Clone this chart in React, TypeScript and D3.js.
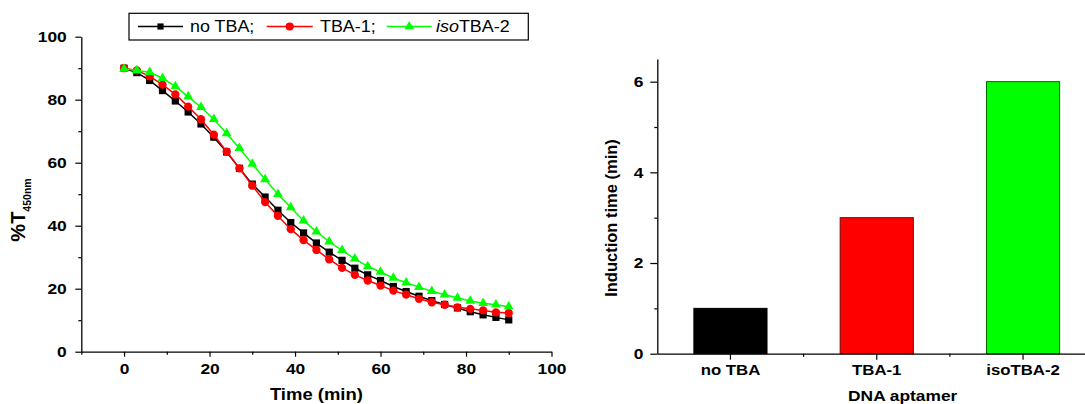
import React, { useEffect, useRef } from "react";
import * as d3 from "d3";

// left panel: transmittance vs time
const times = [0, 3, 6, 9, 12, 15, 18, 21, 24, 27, 30, 33, 36, 39, 42, 45, 48, 51, 54, 57, 60, 63, 66, 69, 72, 75, 78, 81, 84, 87, 90];
const noTBA = [90, 88.6, 86.1, 82.9, 79.6, 76.1, 72.3, 68.1, 63.4, 58.2, 53.2, 49.1, 44.9, 41.0, 37.7, 34.5, 31.6, 29.0, 26.5, 24.4, 22.6, 20.7, 19.1, 17.6, 16.2, 15.0, 13.9, 12.7, 11.7, 10.9, 10.1];
const tba1 = [90, 89.3, 87.4, 84.8, 81.7, 77.8, 73.8, 68.9, 63.5, 58.2, 52.7, 47.5, 43.1, 38.9, 35.4, 32.3, 29.3, 26.6, 24.4, 22.6, 21.0, 19.4, 18.1, 16.8, 15.7, 14.9, 14.1, 13.6, 13.1, 12.5, 12.3];
const isoTBA2 = [89.8, 89.3, 88.7, 86.8, 84.2, 81.0, 77.6, 73.8, 69.3, 64.6, 59.6, 54.7, 50.0, 45.8, 41.6, 38.1, 34.9, 32.2, 29.5, 27.1, 25.3, 23.4, 21.9, 20.5, 19.2, 18.1, 17.1, 16.1, 15.4, 14.9, 14.3];
const xTicks = [0, 20, 40, 60, 80, 100];
const xMinor = [-10, 10, 30, 50, 70, 90];
const yTicks = [0, 20, 40, 60, 80, 100];
const yMinor = [10, 30, 50, 70, 90];

// right panel: induction time
const categories = ["no TBA", "TBA-1", "isoTBA-2"];
const inductionTimes = [1, 3, 6];
const barTicks = [0, 2, 4, 6];
const barMinor = [1, 3, 5];

const FONT = "'Liberation Sans', Arial, sans-serif";
const SX = 1.12;

export default function App() {
  const ref = useRef<SVGSVGElement>(null);

  useEffect(() => {
    const svg = d3.select(ref.current);
    svg.selectAll("*").remove();
    svg.attr("font-family", FONT);

    // ---------- left chart ----------
    const x = d3.scaleLinear().domain([-10, 100]).range([81.3, 551.5]);
    const y = d3.scaleLinear().domain([0, 100]).range([351.7, 36.7]);

    const styleAxis = (g: any, size: number) => {
      g.select(".domain").attr("stroke", "#000").attr("stroke-width", 1.3);
      g.selectAll(".tick line").attr("stroke", "#000").attr("stroke-width", 1.2);
      g.selectAll("text")
        .attr("fill", "#000")
        .attr("font-family", FONT)
        .attr("font-weight", "bold")
        .attr("font-size", size)
        .attr("transform", `scale(${SX},1)`);
    };

    const minorAxis = (g: any) => {
      g.select(".domain").remove();
      g.selectAll(".tick line").attr("stroke", "#000").attr("stroke-width", 1.2);
      g.selectAll("text").remove();
    };

    svg.append("g").attr("transform", "translate(0,351.7)")
      .call(d3.axisBottom(x).tickValues(xMinor).tickSize(3).tickFormat(() => ""))
      .call(minorAxis);
    svg.append("g").attr("transform", "translate(81.3,0)")
      .call(d3.axisLeft(y).tickValues(yMinor).tickSize(3).tickFormat(() => ""))
      .call(minorAxis);

    svg.append("g").attr("transform", "translate(0,351.7)")
      .call(d3.axisBottom(x).tickValues(xTicks).tickSize(5).tickSizeOuter(0).tickPadding(6.3))
      .call((g: any) => styleAxis(g, 15.5));
    svg.append("g").attr("transform", "translate(81.3,0)")
      .call(d3.axisLeft(y).tickValues(yTicks).tickSize(6).tickSizeOuter(0).tickPadding(7))
      .call((g: any) => styleAxis(g, 15.5));

    const series = [
      { values: noTBA, color: "#000000", symbol: d3.symbolSquare, size: 52 },
      { values: tba1, color: "#ff0000", symbol: d3.symbolCircle, size: 54 },
      { values: isoTBA2, color: "#00ff00", symbol: d3.symbolTriangle, size: 42 },
    ];

    series.forEach((s) => {
      const pts = times.map((t, i) => [t, s.values[i]] as [number, number]);
      const line = d3.line<[number, number]>().x((d) => x(d[0])).y((d) => y(d[1]));
      svg.append("path").datum(pts)
        .attr("fill", "none").attr("stroke", s.color).attr("stroke-width", 1.5)
        .attr("d", line);
      svg.append("g").selectAll("path").data(pts).join("path")
        .attr("transform", (d) => `translate(${x(d[0])},${y(d[1])})`)
        .attr("d", d3.symbol().type(s.symbol).size(s.size)() as string)
        .attr("fill", s.color);
    });

    // legend
    svg.append("rect").attr("x", 129).attr("y", 13.3).attr("width", 399.3).attr("height", 26.7)
      .attr("fill", "#fff").attr("stroke", "#000").attr("stroke-width", 1.2);
    const legendItems = [
      { x0: 138, x1: 183, text: "no TBA;", tx: 190, ...series[0], lsize: 38 },
      { x0: 266.7, x1: 312.7, text: "TBA-1;", tx: 320, ...series[1], lsize: 52 },
      { x0: 386.7, x1: 431.7, text: "isoTBA-2", tx: 436, ...series[2], lsize: 40 },
    ];
    legendItems.forEach((it, i) => {
      const ly = 26.5;
      svg.append("line").attr("x1", it.x0).attr("x2", it.x1).attr("y1", ly).attr("y2", ly)
        .attr("stroke", it.color).attr("stroke-width", 1.5);
      svg.append("path").attr("transform", `translate(${(it.x0 + it.x1) / 2},${ly})`)
        .attr("d", d3.symbol().type(it.symbol).size(it.lsize)() as string)
        .attr("fill", it.color);
      const t = svg.append("text")
        .attr("transform", `translate(${it.tx},32.3) scale(${SX},1)`)
        .attr("font-size", 16).attr("fill", "#000");
      if (i === 2) {
        t.append("tspan").attr("font-style", "italic").text("iso");
        t.append("tspan").text("TBA-2");
      } else {
        t.text(it.text);
      }
    });

    // axis titles left
    svg.append("text").attr("transform", `translate(316.4,399.5) scale(${SX},1)`)
      .attr("text-anchor", "middle").attr("font-weight", "bold").attr("font-size", 16.5)
      .text("Time (min)");
    const yt = svg.append("text").attr("transform", "translate(25,210) rotate(-90)")
      .attr("text-anchor", "middle").attr("font-weight", "bold").attr("font-size", 20);
    yt.append("tspan").text("%T");
    yt.append("tspan").attr("font-size", 10.5).attr("dy", 6).text("450nm");

    // ---------- right chart ----------
    const xb = d3.scaleBand<string>().domain(categories).range([657.3, 1096.2])
      .paddingInner(0.5).paddingOuter(0.25);
    const yb = d3.scaleLinear().domain([0, 6.5]).range([353.7, 59]);

    const barColors = ["#000000", "#ff0000", "#00ff00"];
    const barStrokes = ["#000000", "#7a0000", "#006400"];
    svg.append("g").selectAll("rect").data(categories).join("rect")
      .attr("x", (d) => xb(d) as number)
      .attr("y", (d, i) => yb(inductionTimes[i]))
      .attr("width", xb.bandwidth())
      .attr("height", (d, i) => yb(0) - yb(inductionTimes[i]))
      .attr("fill", (d, i) => barColors[i])
      .attr("stroke", (d, i) => barStrokes[i])
      .attr("stroke-width", 1);

    const step = xb.step();
    const boundaries = categories.slice(1).map((c) => (xb(c) as number) - (step - xb.bandwidth()) / 2);
    svg.append("g").selectAll("line").data(boundaries).join("line")
      .attr("x1", (d) => d).attr("x2", (d) => d)
      .attr("y1", yb(0)).attr("y2", yb(0) + 3)
      .attr("stroke", "#000").attr("stroke-width", 1.2);

    svg.append("g").attr("transform", "translate(657.3,0)")
      .call(d3.axisLeft(yb).tickValues(barMinor).tickSize(3).tickFormat(() => ""))
      .call(minorAxis);
    svg.append("g").attr("transform", `translate(0,${yb(0)})`)
      .call(d3.axisBottom(xb).tickSize(6).tickSizeOuter(0).tickPadding(4.6))
      .call((g: any) => styleAxis(g, 15));
    svg.append("g").attr("transform", "translate(657.3,0)")
      .call(d3.axisLeft(yb).tickValues(barTicks).tickFormat(d3.format("d")).tickSize(7).tickSizeOuter(0).tickPadding(5.5))
      .call((g: any) => styleAxis(g, 15.5));

    svg.append("text").attr("transform", `translate(902.7,401) scale(${SX},1)`)
      .attr("text-anchor", "middle").attr("font-weight", "bold").attr("font-size", 15.5)
      .text("DNA aptamer");
    svg.append("text").attr("transform", "translate(617,218) rotate(-90)")
      .attr("text-anchor", "middle").attr("font-weight", "bold").attr("font-size", 16.5)
      .text("Induction time (min)");
  }, []);

  return (
    <svg
      ref={ref}
      width={1085}
      height={404}
      style={{ position: "absolute", left: 0, top: 0, background: "#fff" }}
    />
  );
}
